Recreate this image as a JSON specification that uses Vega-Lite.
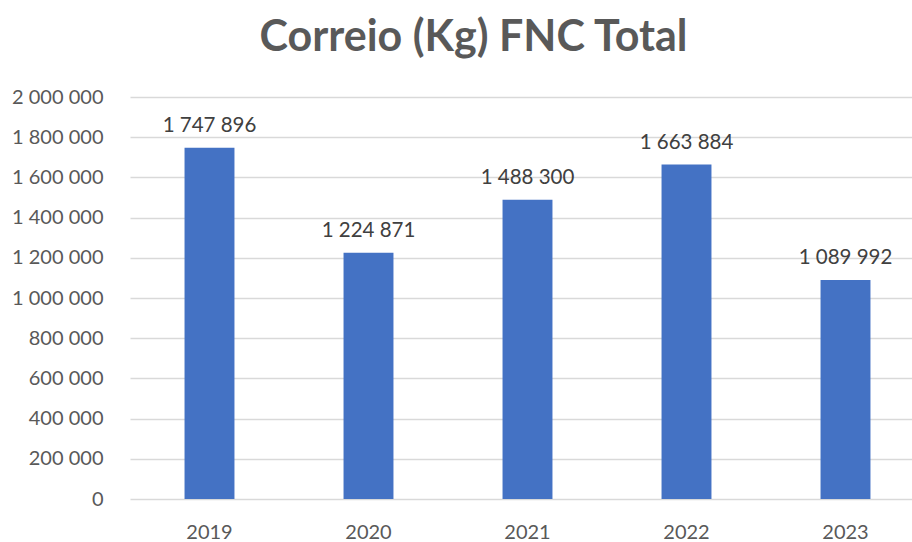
{
  "$schema": "https://vega.github.io/schema/vega-lite/v6.json",
  "autosize": "none",
  "width": 795,
  "height": 402,
  "padding": {"left": 130, "top": 97, "right": 0, "bottom": 43},
  "background": "white",
  "config": {
    "locale": {"number": {"decimal": ",", "thousands": " ", "grouping": [3], "currency": ["", ""]}},
    "view": {"stroke": null},
    "font": "Lato"
  },
  "title": {
    "text": "Correio (Kg) FNC Total",
    "font": "Lato",
    "fontSize": 43,
    "fontWeight": "bold",
    "color": "#595959",
    "anchor": "middle",
    "dx": -54,
    "offset": 27
  },
  "data": {
    "values": [
      {"ano": "2019", "kg": 1747896},
      {"ano": "2020", "kg": 1224871},
      {"ano": "2021", "kg": 1488300},
      {"ano": "2022", "kg": 1663884},
      {"ano": "2023", "kg": 1089992}
    ]
  },
  "encoding": {
    "x": {
      "field": "ano", "type": "nominal",
      "scale": {"paddingInner": 0.686, "paddingOuter": 0.343},
      "axis": {"title": null, "labelAngle": 0, "labelFont": "Lato", "labelFontSize": 20, "labelColor": "#595959", "domain": false, "ticks": false, "labelPadding": 23}
    },
    "y": {
      "field": "kg", "type": "quantitative",
      "scale": {"domain": [0, 2000000], "nice": false},
      "axis": {"title": null, "values": [0, 200000, 400000, 600000, 800000, 1000000, 1200000, 1400000, 1600000, 1800000, 2000000], "format": ",d", "labelFont": "Lato", "labelFontSize": 20, "labelColor": "#595959", "domain": false, "ticks": false, "labelPadding": 27, "gridColor": "#d9d9d9", "gridWidth": 1.5}
    }
  },
  "layer": [
    {"mark": {"type": "bar", "color": "#4472c4"}},
    {
      "mark": {"type": "text", "font": "Lato", "fontSize": 20.5, "color": "#404040", "baseline": "alphabetic", "dy": -16},
      "encoding": {"text": {"field": "kg", "type": "quantitative", "format": ",d"}}
    }
  ]
}
